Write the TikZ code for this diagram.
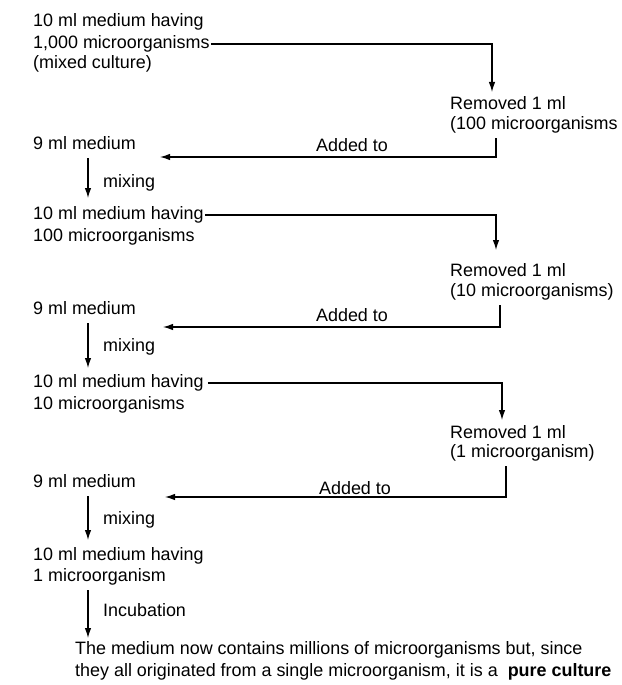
\documentclass[tikz,border=0pt]{standalone}
\usepackage{fontspec}
\setmainfont{Liberation Sans}
\usetikzlibrary{arrows.meta,calc}
\begin{document}
\begin{tikzpicture}[x=1bp,y=-1bp,
  txt/.style={anchor=west,inner sep=0pt,font=\fontsize{18}{21}\selectfont},
  conn/.style={line width=1.2bp},
  arr/.style={conn,-{Latex[length=10bp,width=6.5bp]}}]
\fill[white] (0,0) rectangle (622,685);
\useasboundingbox (0,0) rectangle (622,685);
% block 1
\node[txt] (a1) at (33,22) {10 ml medium having};
\node[txt] (a2) at (33,44) {1,000 microorganisms};
\node[txt] (a3) at (33,64) {(mixed culture)};
\node[txt] (r1a) at (450,103) {Removed 1 ml};
\node[txt] (r1b) at (450,125) {(100 microorganisms};
\node[txt] (m1) at (33,143) {9 ml medium};
\node[txt,anchor=center] (d1) at (352,145) {Added to};
\node[txt] (x1) at (103,183) {mixing};
\coordinate (t1) at (492,92);
\coordinate (s1) at (496,138);
\coordinate (e1) at (160,157);
\coordinate (k1a) at (88,158);
\coordinate (k1b) at (88,198);
\draw[arr] ([xshift=1bp]a2.east) -| (t1);
\draw[arr] (s1) |- (e1);
\draw[arr] (k1a) -- (k1b);
% block 2
\node[txt] (b1) at (33,215) {10 ml medium having};
\node[txt] (b2) at (33,237) {100 microorganisms};
\node[txt] (r2a) at (450,270) {Removed 1 ml};
\node[txt] (r2b) at (450,292) {(10 microorganisms)};
\node[txt] (m2) at (33,308) {9 ml medium};
\node[txt,anchor=center] (d2) at (352,315) {Added to};
\node[txt] (x2) at (103,347) {mixing};
\coordinate (t2) at (496,250);
\coordinate (s2) at (500,305);
\coordinate (e2) at (163,327);
\coordinate (k2a) at (88,323);
\coordinate (k2b) at (88,368);
\draw[arr] ([xshift=1bp]b1.east) -| (t2);
\draw[arr] (s2) |- (e2);
\draw[arr] (k2a) -- (k2b);
% block 3
\node[txt] (c1) at (33,383) {10 ml medium having};
\node[txt] (c2) at (33,405) {10 microorganisms};
\node[txt] (r3a) at (450,432) {Removed 1 ml};
\node[txt] (r3b) at (450,453) {(1 microorganism)};
\node[txt] (m3) at (33,481) {9 ml medium};
\node[txt,anchor=center] (d3) at (355,488) {Added to};
\node[txt] (x3) at (103,520) {mixing};
\coordinate (t3) at (502,420);
\coordinate (s3) at (506,466);
\coordinate (e3) at (165,497);
\coordinate (k3a) at (88,496);
\coordinate (k3b) at (88,540);
\draw[arr] ([xshift=4bp]c1.east) -| (t3);
\draw[arr] (s3) |- (e3);
\draw[arr] (k3a) -- (k3b);
% block 4
\node[txt] (f1) at (33,556) {10 ml medium having};
\node[txt] (f2) at (33,577) {1 microorganism};
\node[txt] (x4) at (103,610) {Incubation};
\coordinate (k4a) at (88,590);
\coordinate (k4b) at (88,638);
\draw[arr] (k4a) -- (k4b);
\node[txt] (g1) at (75,650) {The medium now contains millions of microorganisms but, since};
\node[txt] (g2) at (75,672) {they all originated from a single microorganism, it is a\ \ \textbf{pure culture}};
\end{tikzpicture}
\end{document}
